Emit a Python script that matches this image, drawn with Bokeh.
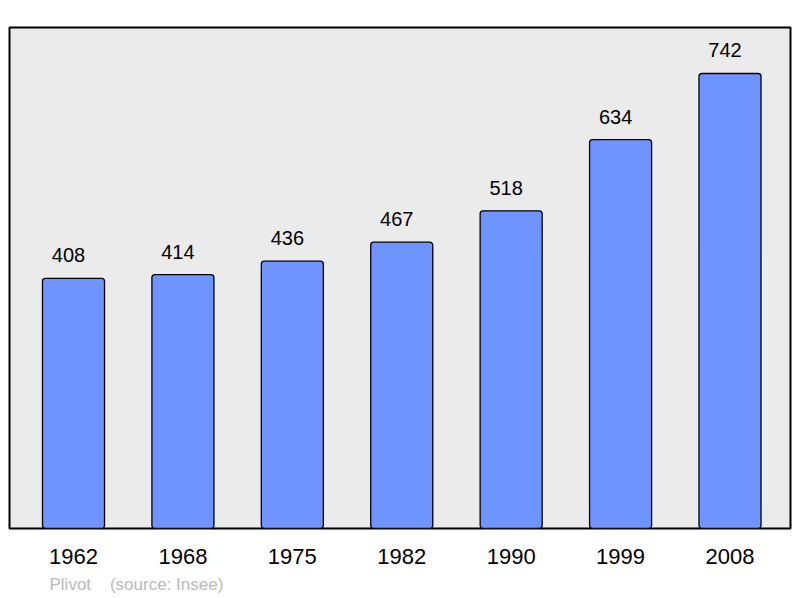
from bokeh.plotting import figure
from bokeh.models import Range1d, FixedTicker, Title, ColumnDataSource
from bokeh.embed import file_html
from bokeh.resources import INLINE
from bokeh.core.properties import value

years = ["1962", "1968", "1975", "1982", "1990", "1999", "2008"]
population = [408, 414, 436, 467, 518, 634, 742]

xs = list(range(len(years)))
src = ColumnDataSource(dict(x=xs, y=population, lbl=[str(v) for v in population]))

FONT = "Liberation Sans"

p = figure(frame_width=781, frame_height=501, output_backend="svg", toolbar_location=None,
           x_range=Range1d(-0.585, 6.553), y_range=Range1d(0, 817),
           y_axis_location=None, min_border_left=9, min_border_right=10,
           min_border_top=27, min_border_bottom=70)
p.background_fill_color = "#EBEBEB"
p.border_fill_color = "white"
p.outline_line_color = "black"
p.outline_line_width = 2
p.grid.visible = False

p.vbar(x="x", top="y", width=0.567, bottom=0, source=src, fill_color="#7094FF",
       line_color="black", line_width=1.3, border_radius=3)
p.text(x="x", y="y", text="lbl", source=src, text_align="center", text_baseline="bottom",
       x_offset=-5, y_offset=-16, text_font=value(FONT), text_font_size="20px",
       text_color="black")

ax = p.xaxis[0]
ax.ticker = FixedTicker(ticks=xs)
ax.major_label_overrides = {i: y for i, y in enumerate(years)}
ax.axis_line_color = None
ax.major_tick_line_color = None
ax.minor_tick_line_color = None
ax.major_label_text_font = FONT
ax.major_label_text_font_size = "22px"
ax.major_label_text_color = "black"
ax.major_label_standoff = 14

footer = Title(text="Plivot\u00a0\u00a0\u00a0\u00a0(source: Insee)", align="left", offset=40,
               text_font=FONT, text_font_size="17px", text_color="#BBBBBB",
               text_font_style="normal", standoff=12)
p.add_layout(footer, "below")

open("out.html", "w").write(file_html(p, INLINE))
